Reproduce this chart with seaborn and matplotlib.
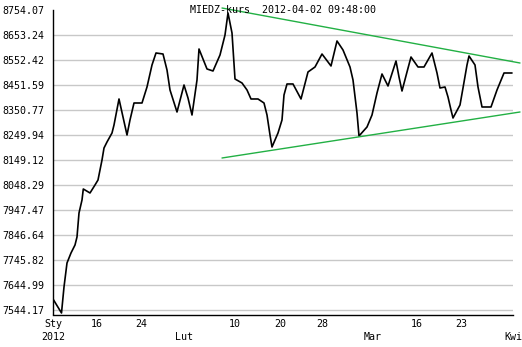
import matplotlib
matplotlib.use("Agg")
import matplotlib.pyplot as plt
import seaborn as sns
import pandas as pd

# ---- data ----
# time position along the axis (0 = start of January, 460 = start of April)
t = [0, 8.5, 11, 14, 18, 22, 24, 26, 29, 30.3,
     37, 42, 45, 49, 51, 54, 59, 61, 66, 74,
     77, 81, 89, 94, 99, 103, 110, 112, 114, 117,
     124, 131, 135, 139, 144, 146, 154, 160, 167, 172,
     175, 179, 182, 189, 194, 198, 205, 211, 214, 217,
     219, 225, 229, 231, 234, 240, 248, 255, 262, 269,
     278, 284, 290, 297, 300, 304, 306, 314, 319, 324,
     329, 335, 343, 346, 349, 354, 358, 365, 371, 379,
     384, 387, 392, 395, 398, 400, 407, 410, 414, 416,
     422, 425, 429, 438, 444, 451, 459]
price = [7588.5, 7532.1, 7637.0, 7733.8, 7774.1, 7806.3, 7838.6, 7935.4, 7987.8, 8032.2,
         8016.1, 8048.3, 8068.5, 8149.1, 8197.5, 8221.7, 8258.0, 8290.3, 8395.2, 8250.0,
         8310.5, 8379.0, 8379.0, 8443.6, 8532.3, 8580.7, 8576.6, 8544.4, 8512.1, 8431.5,
         8342.7, 8451.6, 8399.2, 8330.6, 8471.8, 8596.8, 8516.2, 8508.1, 8572.6, 8653.2,
         8742.0, 8661.3, 8475.8, 8459.7, 8431.5, 8395.2, 8395.2, 8379.0, 8330.6, 8250.0,
         8201.6, 8258.0, 8310.5, 8411.3, 8455.7, 8455.7, 8395.2, 8504.1, 8524.2, 8576.6,
         8528.3, 8629.1, 8592.8, 8524.2, 8471.8, 8338.7, 8245.9, 8282.2, 8330.6, 8419.4,
         8496.0, 8447.6, 8548.4, 8483.9, 8427.4, 8504.1, 8564.5, 8524.2, 8524.2, 8580.7,
         8500.0, 8439.5, 8443.6, 8403.2, 8350.8, 8318.5, 8371.0, 8439.5, 8532.3, 8568.6,
         8532.3, 8443.6, 8362.9, 8362.9, 8431.5, 8500.0, 8500.0]

trend_t = [169, 467]
trend_upper = [8762.1, 8540.3]
trend_lower = [8157.2, 8342.7]

ytick_vals = [7544.17, 7644.99, 7745.82, 7846.64, 7947.47, 8048.29, 8149.12,
              8249.94, 8350.77, 8451.59, 8552.42, 8653.24, 8754.07]
ytick_labels = ["7544.17", "7644.99", "7745.82", "7846.64", "7947.47", "8048.29", "8149.12",
                "8249.94", "8350.77", "8451.59", "8552.42", "8653.24", "8754.07"]
xtick_pos = [0, 44, 88, 131, 182, 227, 269, 320, 364, 408, 460]
xtick_labels = ["Sty\n2012", "16", "24", "\nLut", "10", "20", "28", "\nMar", "16", "23", "\nKwi"]
title = "MIEDZ-kurs  2012-04-02 09:48:00"

# ---- plot ----
sns.set_style("white")
plt.rcParams["font.family"] = ["DejaVu Sans Mono"]
plt.rcParams["font.size"] = 7.2

W, H = 522, 347
fig = plt.figure(figsize=(W / 100, H / 100), dpi=100)
ax = fig.add_axes([53 / W, (H - 314.5) / H, (513 - 53) / W, (314.5 - 10) / H])

df = pd.DataFrame({"t": t, "price": price})
sns.lineplot(data=df, x="t", y="price", color="black", linewidth=1.2, ax=ax)

tr = pd.DataFrame({"t": trend_t, "upper": trend_upper, "lower": trend_lower})
sns.lineplot(data=tr, x="t", y="upper", color="#22b044", linewidth=1.0, ax=ax, clip_on=False)
sns.lineplot(data=tr, x="t", y="lower", color="#22b044", linewidth=1.0, ax=ax, clip_on=False)

ax.set_xlim(0, 460)
ax.set_ylim(7526.0, 8754.07)
ax.set_xlabel("")
ax.set_ylabel("")

ax.set_yticks(ytick_vals)
ax.set_yticklabels(ytick_labels)
ax.set_xticks(xtick_pos)
ax.set_xticklabels(xtick_labels, linespacing=1.45)

ax.tick_params(axis="y", length=0, pad=6, labelsize=7.2, colors="black")
ax.tick_params(axis="x", direction="in", length=2.5, width=1, pad=3,
               labelsize=7.2, colors="black")

ax.yaxis.grid(True, color="#c8c8c8", linewidth=1.0)
ax.xaxis.grid(False)
ax.set_axisbelow(True)
ax.yaxis.get_gridlines()[-1].set_visible(False)

for s in ["top", "right"]:
    ax.spines[s].set_visible(False)
for s in ["left", "bottom"]:
    ax.spines[s].set_color("black")
    ax.spines[s].set_linewidth(1.0)

ax.text(0.5, 1 - 3 / 304.5, title, transform=ax.transAxes, ha="center",
        va="baseline", fontsize=7.2, color="black")

fig.savefig("out.png", dpi=100, facecolor="white")
